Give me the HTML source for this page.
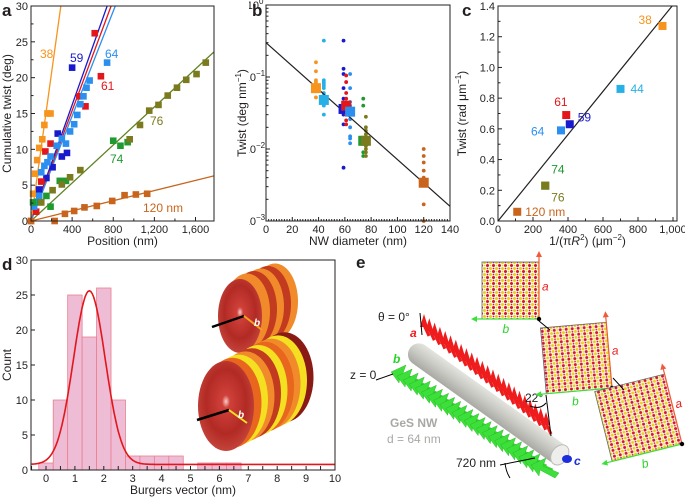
<!DOCTYPE html>
<html><head><meta charset="utf-8"><style>
html,body{margin:0;padding:0;background:#fff}
svg{display:block;font-family:"Liberation Sans",Arial,sans-serif}
</style></head><body>
<svg id="fig" width="685" height="499" viewBox="0 0 685 499" xmlns="http://www.w3.org/2000/svg">
<defs>
<pattern id="lat" width="6" height="6" patternUnits="userSpaceOnUse">
<rect width="6" height="6" fill="#fff"/>
<circle cx="1.5" cy="1.5" r="1.5" fill="#d4142a"/><circle cx="4.5" cy="4.5" r="1.5" fill="#e8d21a"/>
<circle cx="4.5" cy="1.5" r="0.9" fill="#e8d21a"/><circle cx="1.5" cy="4.5" r="0.9" fill="#d4142a"/>
</pattern>
<linearGradient id="cyl" x1="0" y1="0" x2="0" y2="1">
<stop offset="0" stop-color="#e4e4df"/><stop offset="0.5" stop-color="#c9c9c4"/><stop offset="1" stop-color="#a9a9a4"/></linearGradient>
<radialGradient id="disk" cx="0.5" cy="0.45" r="0.6"><stop offset="0" stop-color="#f6d0c8"/><stop offset="0.12" stop-color="#d0403a"/><stop offset="0.6" stop-color="#b22a24"/><stop offset="1" stop-color="#c84a40"/></radialGradient>
</defs>
</svg>
<script>
// ---------- Panel a data ----------
const aSeriesNames = ["38","59","61","64","74","76","120"];
const aColors = ["#f7941d","#1a1acd","#e3161b","#2b8ff0","#1e9a2e","#7b7a1e","#c8641c"];
const aSlopes = [0.1034,0.0405,0.0385,0.0366,0.01326,0.01326,0.00354];
const aPos38 = [0,20,40,60,80,110,130,160,190];
const aTw38  = [0,3.8,6.6,8.5,10.2,11.4,13.4,15,15];
const aPos59 = [80,150,210,260,300,350,400];
const aTw59  = [4.4,6,7.5,12.2,9,9.5,21.4];
const aPos61 = [50,100,140,190,470,530,620,680];
const aTw61  = [1.3,5.5,9.7,10.8,17.4,16,26.2,20.2];
const aPos64 = [30,60,80,100,130,160,190,250,300,340,380,420,450,480,510,540,570,740];
const aTw64  = [2,2.7,3.5,6.8,7.7,8.2,9,10.5,11.5,10.8,12.5,13.5,14.8,16.3,17.4,18.6,19.6,22.1];
const aPos74 = [20,90,150,190,280,340,800,870,940];
const aTw74  = [2.6,2.6,3.5,2,5.6,5.6,11.2,10.5,11];
const aPos76 = [100,210,300,380,480,960,1060,1150,1240,1330,1420,1510,1610,1700];
const aTw76  = [2.6,4.3,5.1,6.1,7.1,11.4,13.4,15.4,16.2,17.5,18.6,19.7,20.5,22.1];
const aPos120 = [0,230,330,420,520,640,790,910,1020,1130];
const aTw120  = [0,0,1,1.4,1.9,2.1,2.8,3.6,3.7,3.8];
const aXTicks = [0,400,800,1200,1600];
const aXTickLabels = ["0","400","800","1,200","1,600"];
const aYTicks = [0,5,10,15,20,25,30];
// ---------- Panel b data ----------
const bDiam = [38,44,59,61,64,74,76,120];
const bMean = [0.07,0.048,0.036,0.04,0.033,0.013,0.013,0.0034];
const bColors = ["#f7941d","#27b0e8","#1a1acd","#e3161b","#2b8ff0","#1e9a2e","#7b7a1e","#c8641c"];
const bDots38 = [0.16,0.12,0.09,0.085,0.052];
const bDots44 = [0.32,0.09,0.085,0.08,0.075,0.07,0.06,0.055,0.045,0.04,0.03];
const bDots59 = [0.32,0.13,0.11,0.07,0.05,0.04,0.03,0.022,0.0055];
const bDots61 = [0.105,0.085,0.06,0.05,0.03,0.025,0.022];
const bDots64 = [0.11,0.07,0.045,0.04,0.035,0.03,0.026,0.02,0.015,0.014,0.012];
const bDots74 = [0.05,0.04,0.012,0.009,0.008];
const bDots76 = [0.028,0.02,0.018,0.016,0.014,0.012,0.011,0.01,0.009,0.008];
const bDots120 = [0.01,0.008,0.0065,0.005,0.004,0.0017,0.001];
const bFitX = [0,140];
const bFitY = [0.3,0.0016];
const bXTicks = [0,20,40,60,80,100,120,140];
// ---------- Panel c data ----------
const cLabels = ["38","44","61","59","64","74","76","120 nm"];
const cInvArea = [940,700,390,410,360,270,270,110];
const cTwist = [1.27,0.86,0.69,0.63,0.59,0.23,0.23,0.06];
const cColors = ["#f7941d","#27b0e8","#e3161b","#1a1acd","#2b8ff0","#1e9a2e","#7b7a1e","#c8641c"];
const cFitSlope = 0.001407;
const cXTicks = [0,200,400,600,800,1000];
const cXTickLabels = ["0","200","400","600","800","1,000"];
const cYTicks = [0,0.2,0.4,0.6,0.8,1.0,1.2,1.4];
// ---------- Panel d data ----------
const dBinCenters = [0,0.5,1,1.5,2,2.5,3,3.5,4,4.5,5.5,6,6.5];
const dCounts = [1,10,25,19,26,10,2,2,2,2,1,1,1];
const dGaussAmp = 24.8, dGaussMu = 1.5, dGaussSigma = 0.55, dGaussBase = 0.8;
const dXTicks = [0,1,2,3,4,5,6,7,8,9,10];
const dYTicks = [0,5,10,15,20,25,30];

const svg = document.getElementById('fig');
const NS = "http://www.w3.org/2000/svg";
function mk(tag, attrs, parent){ const e=document.createElementNS(NS,tag); for(const k in attrs) e.setAttribute(k,attrs[k]); (parent||svg).appendChild(e); return e; }
function txt(x,y,s,attrs,parent){ const e=mk('text',Object.assign({x:x,y:y,'font-size':11,fill:'#231f20'},attrs||{}),parent); e.textContent=s; return e; }
function grp(name){ const g=mk('g',{});   return g; }

// ================= Panel b =================
(function(){
 const g=grp('panel-b');
 const L=266,R=450,T=5,B=221;
 const sx=v=>L+(v/140)*(R-L), sy=v=>T+(-Math.log10(v)/3)*(B-T);
 const dots=[bDots38,bDots44,bDots59,bDots61,bDots64,bDots74,bDots76,bDots120];
 dots.forEach((arr,i)=>arr.forEach(v=>{ const c=mk('circle',{cx:sx(bDiam[i]),cy:sy(v),r:1.9,fill:bColors[i]},g);
    }));
 const fl=mk('line',{x1:sx(bFitX[0]),y1:sy(bFitY[0]),x2:sx(bFitX[1]),y2:sy(bFitY[1]),stroke:'#231f20','stroke-width':1.2},g);
  
 bDiam.forEach((d,i)=>{ const r=mk('rect',{x:sx(d)-5,y:sy(bMean[i])-5,width:10,height:10,fill:bColors[i]},g);
    });
 mk('rect',{x:L,y:T,width:R-L,height:B-T,fill:'none',stroke:'#231f20'},g);
 bXTicks.forEach(v=>{ mk('line',{x1:sx(v),y1:B,x2:sx(v),y2:B-4,stroke:'#231f20'},g); txt(sx(v),B+12,String(v),{'text-anchor':'middle'},g); });
 for(let v=2;v<140;v+=2) if(v%20) mk('line',{x1:sx(v),y1:B,x2:sx(v),y2:B-2,stroke:'#231f20'},g);
 const ex=['0','−1','−2','−3'];
 for(let d=0;d<=3;d++){ const y=sy(Math.pow(10,-d)); mk('line',{x1:L,y1:y,x2:L+4,y2:y,stroke:'#231f20'},g);
  const w=d===0?6:9;
  txt(L-1-w,y+4,'10',{'text-anchor':'end'},g); txt(L-1-w,y-1,ex[d],{'font-size':8},g);
  if(d<3) for(let m=2;m<10;m++){ const yy=sy(m*Math.pow(10,-d-1)); mk('line',{x1:L,y1:yy,x2:L+2.5,y2:yy,stroke:'#231f20'},g);} }
 mk('rect',{x:216,y:0,width:33,height:240,fill:'#fff'},g);
 const lab=txt(252,16,'b',{'font-size':17,'font-weight':'bold'},g);  
 const xt=txt((L+R)/2,245,'NW diameter (nm)',{'text-anchor':'middle','font-size':12},g);  
 const yt=mk('text',{'text-anchor':'middle','font-size':12,fill:'#231f20',transform:`translate(246,${(T+B)/2}) rotate(-90)`},g);
 yt.innerHTML='Twist (deg nm<tspan font-size="8" dy="-5">−1</tspan><tspan dy="5">)</tspan>';
  
})();

// ================= Panel a =================
(function(){
 const g = grp('panel-a');
 const L=31,R=214,T=6,B=221, xMax=1780, yMax=30;
 const sx=v=>L+(v/xMax)*(R-L), sy=v=>B-(v/yMax)*(B-T);
 const lab=txt(2,16,'a',{'font-size':17,'font-weight':'bold'},g);  
 const cp=mk('clipPath',{id:'clipA'},g); mk('rect',{x:L,y:T,width:R-L,height:B-T},cp);
 const pos=[aPos38,aPos59,aPos61,aPos64,aPos74,aPos76,aPos120], tw=[aTw38,aTw59,aTw61,aTw64,aTw74,aTw76,aTw120];
 const lg=mk('g',{'clip-path':'url(#clipA)'},g);
 const lineColors=["#f7941d","#1a1acd","#e3161b","#2b8ff0","#7b7a1e","#7b7a1e","#c8641c"];
 aSlopes.forEach((s,i)=>{ if(i===4) return; const l=mk('line',{x1:sx(0),y1:sy(0),x2:sx(xMax),y2:sy(s*xMax),stroke:lineColors[i],'stroke-width':1.3},lg);
    });
 const gl=mk('line',{x1:sx(0),y1:sy(0),x2:sx(xMax),y2:sy(aSlopes[4]*xMax),stroke:'#1e9a2e','stroke-width':0.5},lg);
  
 pos.forEach((arr,i)=>arr.forEach((p,j)=>{ const r=mk('rect',{x:sx(p)-3.3,y:sy(tw[i][j])-3.3,width:6.6,height:6.6,fill:aColors[i]},g);
    }));
 mk('rect',{x:L,y:T,width:R-L,height:B-T,fill:'none',stroke:'#231f20','stroke-width':1},g);
 aXTicks.forEach((v,i)=>{ mk('line',{x1:sx(v),y1:B,x2:sx(v),y2:B-4,stroke:'#231f20'},g); txt(sx(v),B+12,aXTickLabels[i],{'text-anchor':'middle'},g); });
 for(let v=200;v<xMax;v+=400) mk('line',{x1:sx(v),y1:B,x2:sx(v),y2:B-2.5,stroke:'#231f20'},g);
 aYTicks.forEach(v=>{ mk('line',{x1:L,y1:sy(v),x2:L+4,y2:sy(v),stroke:'#231f20'},g); txt(L-3,sy(v)+4,String(v),{'text-anchor':'end'},g); });
 for(let v=2.5;v<30;v+=5) mk('line',{x1:L,y1:sy(v),x2:L+2.5,y2:sy(v),stroke:'#231f20'},g);
 const xt=txt((L+R)/2,245,'Position (nm)',{'text-anchor':'middle','font-size':12},g);  
 const yt=txt(0,0,'Cumulative twist (deg)',{'text-anchor':'middle','font-size':12,transform:`translate(11,${(T+B)/2}) rotate(-90)`},g);  
 const ann=[["38",40,58,"#f7941d"],["59",70,62,"#1a1acd"],["64",105,58,"#2b8ff0"],["61",101,90,"#e3161b"],["76",150,125,"#7b7a1e"],["74",110,163,"#1e9a2e"],["120 nm",143,212,"#c8641c"]];
 ann.forEach(a=>{ const t=txt(a[1],a[2],a[0],{fill:a[3],'font-size':12},g);   });
})();

// ================= Panel c =================
(function(){
 const g=grp('panel-c');
 const L=498,R=677,T=6,B=221;
 const sx=v=>L+(v/1000)*(673-L), sy=v=>B-(v/1.4)*(B-T);
 const lab=txt(462,16,'c',{'font-size':17,'font-weight':'bold'},g);  
 const fl=mk('line',{x1:sx(0),y1:sy(0),x2:sx(1.4/cFitSlope),y2:sy(1.4),stroke:'#231f20','stroke-width':1.2},g);
  
 cInvArea.forEach((v,i)=>{ const r=mk('rect',{x:sx(v)-4,y:sy(cTwist[i])-4,width:8,height:8,fill:cColors[i]},g);
    });
 const off=[[-24,-2],[10,4],[-12,-9],[8,-3],[-30,5],[6,-12],[6,16],[8,4]];
 cLabels.forEach((s,i)=>{ const t=txt(sx(cInvArea[i])+off[i][0],sy(cTwist[i])+off[i][1],s,{fill:cColors[i],'font-size':12},g);
    });
 mk('rect',{x:L,y:T,width:R-L,height:B-T,fill:'none',stroke:'#231f20'},g);
 cXTicks.forEach((v,i)=>{ mk('line',{x1:sx(v),y1:B,x2:sx(v),y2:B-4,stroke:'#231f20'},g); txt(sx(v),B+12,cXTickLabels[i],{'text-anchor':'middle'},g); });
 for(let v=100;v<1000;v+=200) mk('line',{x1:sx(v),y1:B,x2:sx(v),y2:B-2.5,stroke:'#231f20'},g);
 cYTicks.forEach(v=>{ mk('line',{x1:L,y1:sy(v),x2:L+4,y2:sy(v),stroke:'#231f20'},g); txt(L-3,sy(v)+4,v.toFixed(1),{'text-anchor':'end'},g); });
 for(let v=0.1;v<1.4;v+=0.2) mk('line',{x1:L,y1:sy(v),x2:L+2.5,y2:sy(v),stroke:'#231f20'},g);
 const xt=mk('text',{x:(L+R)/2,y:245,'text-anchor':'middle','font-size':12,fill:'#231f20'},g);
 xt.innerHTML='1/(π<tspan font-style="italic">R</tspan><tspan font-size="8" dy="-5">2</tspan><tspan dy="5">) (μm</tspan><tspan font-size="8" dy="-5">−2</tspan><tspan dy="5">)</tspan>';
  
 const yt=mk('text',{'text-anchor':'middle','font-size':12,fill:'#231f20',transform:`translate(466,${(T+B)/2}) rotate(-90)`},g);
 yt.innerHTML='Twist (rad μm<tspan font-size="8" dy="-5">−1</tspan><tspan dy="5">)</tspan>';
  
})();

// ================= Panel d =================
(function(){
 const g=grp('panel-d');
 const L=31,R=335,T=260,B=470;
 const sx=v=>46+v*28.9, sy=v=>B-(v/30)*(B-T);
 const lab=txt(2,270,'d',{'font-size':17,'font-weight':'bold'},g);  
 dBinCenters.forEach((c,i)=>{ const r=mk('rect',{x:sx(c-0.25),y:sy(dCounts[i]),width:sx(0.5)-sx(0),height:B-sy(dCounts[i]),fill:'#efbcd6',stroke:'#e8808e','stroke-width':0.8},g);
    });
 let d=''; for(let x=-0.5;x<=10.001;x+=0.05){ const y=dGaussBase+dGaussAmp*Math.exp(-Math.pow(x-dGaussMu,2)/(2*dGaussSigma*dGaussSigma)); d+=(d?'L':'M')+sx(x).toFixed(1)+','+sy(y).toFixed(1); }
 const p=mk('path',{d:d,fill:'none',stroke:'#e3161b','stroke-width':1.6},g);  
 const ill=grp('disc-illustration');
 const c1=['#c23a1f','#f08a2a','#c23a1f','#f08a2a','#c23a1f','#f08a2a'];
 for(let k=5;k>=1;k--) mk('ellipse',{cx:240+k*7,cy:314-k*2.5,rx:23,ry:38,fill:c1[k]},ill);
 mk('ellipse',{cx:240,cy:316,rx:22,ry:37,fill:'url(#disk)'},ill);
 mk('line',{x1:212,y1:327,x2:244,y2:316,stroke:'#000','stroke-width':2.5},ill);
 mk('line',{x1:244,y1:316,x2:262,y2:330,stroke:'#f4a020','stroke-width':2},ill);
 txt(254,326,'b',{fill:'#fff','font-style':'italic','font-weight':'bold','font-size':10},ill);
 const c2=['#c23a1f','#e8661e','#f4e020','#f08a2a','#c23a1f','#f4e020','#e8661e','#f08a2a','#f4e020','#8a1a16'];
 for(let k=9;k>=1;k--) mk('ellipse',{cx:226+k*6.5,cy:406-k*3.2,rx:29,ry:45,fill:c2[k]},ill);
 mk('ellipse',{cx:226,cy:406,rx:28,ry:45,fill:'url(#disk)'},ill);
 mk('line',{x1:197,y1:420,x2:229,y2:410,stroke:'#000','stroke-width':2.5},ill);
 mk('line',{x1:229,y1:410,x2:247,y2:423,stroke:'#f4e020','stroke-width':2},ill);
 txt(238,418,'b',{fill:'#fff','font-style':'italic','font-weight':'bold','font-size':10},ill);
 mk('rect',{x:L,y:T,width:R-L,height:B-T,fill:'none',stroke:'#231f20'},g);
 dXTicks.forEach(v=>{ mk('line',{x1:sx(v),y1:B,x2:sx(v),y2:B-4,stroke:'#231f20'},g); txt(sx(v),B+12,String(v),{'text-anchor':'middle'},g);
  if(v<10) mk('line',{x1:sx(v+0.5),y1:B,x2:sx(v+0.5),y2:B-4,stroke:'#231f20'},g); });
 mk('line',{x1:sx(-0.5),y1:B,x2:sx(-0.5),y2:B-4,stroke:'#231f20'},g);
 dYTicks.forEach(v=>{ mk('line',{x1:L,y1:sy(v),x2:L+4,y2:sy(v),stroke:'#231f20'},g); txt(L-3,sy(v)+4,String(v),{'text-anchor':'end'},g); });
 const xt=txt((L+R)/2,494,'Burgers vector (nm)',{'text-anchor':'middle','font-size':12},g);  
 const yt=txt(0,0,'Count',{'text-anchor':'middle','font-size':12,transform:`translate(11,${(T+B)/2}) rotate(-90)`},g);  
})();

// ================= Panel e (illustration) =================
(function(){
 const g=grp('panel-e');
 const lab=txt(356,268,'e',{'font-size':17,'font-weight':'bold'},g);  
 for(let i=0;i<24;i++){ const t=i/23, x=391+t*140, y=372+t*93;
  mk('path',{d:`M${x},${y} L${x+15},${y-7} L${x+12},${y+1} L${x+28},${y+8} L${x+24},${y+13} L${x+9},${y+5} L${x+8},${y+11} Z`,fill:'#3de03a',stroke:'#22b020','stroke-width':0.4},g); }
 const cy=mk('g',{transform:'translate(410,348) rotate(35.5)'},g);
 mk('rect',{x:0,y:-11,width:190,height:22,rx:11,fill:'url(#cyl)'},cy);
 mk('ellipse',{cx:184,cy:0,rx:8,ry:11,fill:'#eeeeea',stroke:'#bbb'},cy);
 for(let i=0;i<24;i++){ const t=i/23, x=424+t*122, y=330+t*98;
  mk('path',{d:`M${x},${y-16} L${x-4},${y-3} L${x+4},${y-3} Z`,fill:'#ee1c1c'},g);
  mk('line',{x1:x,y1:y-5,x2:x+5,y2:y+6,stroke:'#ee1c1c','stroke-width':3},g); }
 mk('ellipse',{cx:567,cy:459,rx:5,ry:4,fill:'#1a2ee0'},g);
 mk('line',{x1:420,y1:313,x2:422,y2:335,stroke:'#000'},g);
 mk('line',{x1:376,y1:380,x2:393,y2:374,stroke:'#000'},g);
 mk('line',{x1:546,y1:395,x2:551,y2:436,stroke:'#000'},g);
 mk('path',{d:'M530,406 Q540,410 546,403',fill:'none',stroke:'#000'},g);
 mk('path',{d:'M500,465 L535,458',fill:'none',stroke:'#000'},g);
 mk('path',{d:'M505,463 Q506,472 510,478',fill:'none',stroke:'#000'},g);
 const ann=[['θ = 0°',378,321,'#231f20','normal'],['a',410,337,'#ee1c1c','italic'],['b',393,363,'#28d428','italic'],['z = 0',350,379,'#231f20','normal'],['22°',525,402,'#231f20','normal'],['720 nm',456,467,'#231f20','normal'],['c',574,465,'#1a2ee0','italic']];
 ann.forEach(a=>{ const t=txt(a[1],a[2],a[0],{fill:a[3],'font-style':a[4],'font-size':12,'font-weight':a[4]==='italic'?'bold':'normal'},g);   });
 const gs=txt(390,427,'GeS NW',{fill:'#a8a8a4','font-weight':'bold','font-size':12},g);  
 const dd=txt(387,443,'d = 64 nm',{fill:'#a8a8a4','font-size':12},g);  
 const sq=[[482,262,57,0],[546,322,66,-5],[610,372,72,-14]];
 sq.forEach((s,i)=>{ const sg=mk('g',{transform:`rotate(${s[3]},${s[0]+s[2]},${s[1]+s[2]})`},g);
   
  mk('rect',{x:s[0],y:s[1],width:s[2],height:s[2],fill:'url(#lat)',stroke:'#666','stroke-width':0.8},sg);
  mk('line',{x1:s[0]+s[2],y1:s[1]+s[2],x2:s[0]+s[2],y2:s[1]-8,stroke:'#f05a3a','stroke-width':1.2},sg);
  mk('path',{d:`M${s[0]+s[2]-3},${s[1]-5} L${s[0]+s[2]},${s[1]-11} L${s[0]+s[2]+3},${s[1]-5}Z`,fill:'#f05a3a'},sg);
  mk('line',{x1:s[0]+s[2],y1:s[1]+s[2],x2:s[0]-8,y2:s[1]+s[2],stroke:'#3de03a','stroke-width':1.2},sg);
  mk('path',{d:`M${s[0]-5},${s[1]+s[2]-3} L${s[0]-11},${s[1]+s[2]} L${s[0]-5},${s[1]+s[2]+3}Z`,fill:'#3de03a'},sg);
  txt(s[0]+s[2]+3,s[1]+s[2]/2,'a',{fill:'#ee1c1c','font-style':'italic','font-size':12},sg);
  txt(s[0]+s[2]/2-8,s[1]+s[2]+14,'b',{fill:'#28d428','font-style':'italic','font-size':12},sg);
  mk('circle',{cx:s[0]+s[2],cy:s[1]+s[2],r:2.2,fill:'#000'},sg); });
 mk('line',{x1:539,y1:321,x2:550,y2:330,stroke:'#000'},g);
 mk('line',{x1:613,y1:378,x2:624,y2:390,stroke:'#000'},g);
})();
</script>
</body></html>
